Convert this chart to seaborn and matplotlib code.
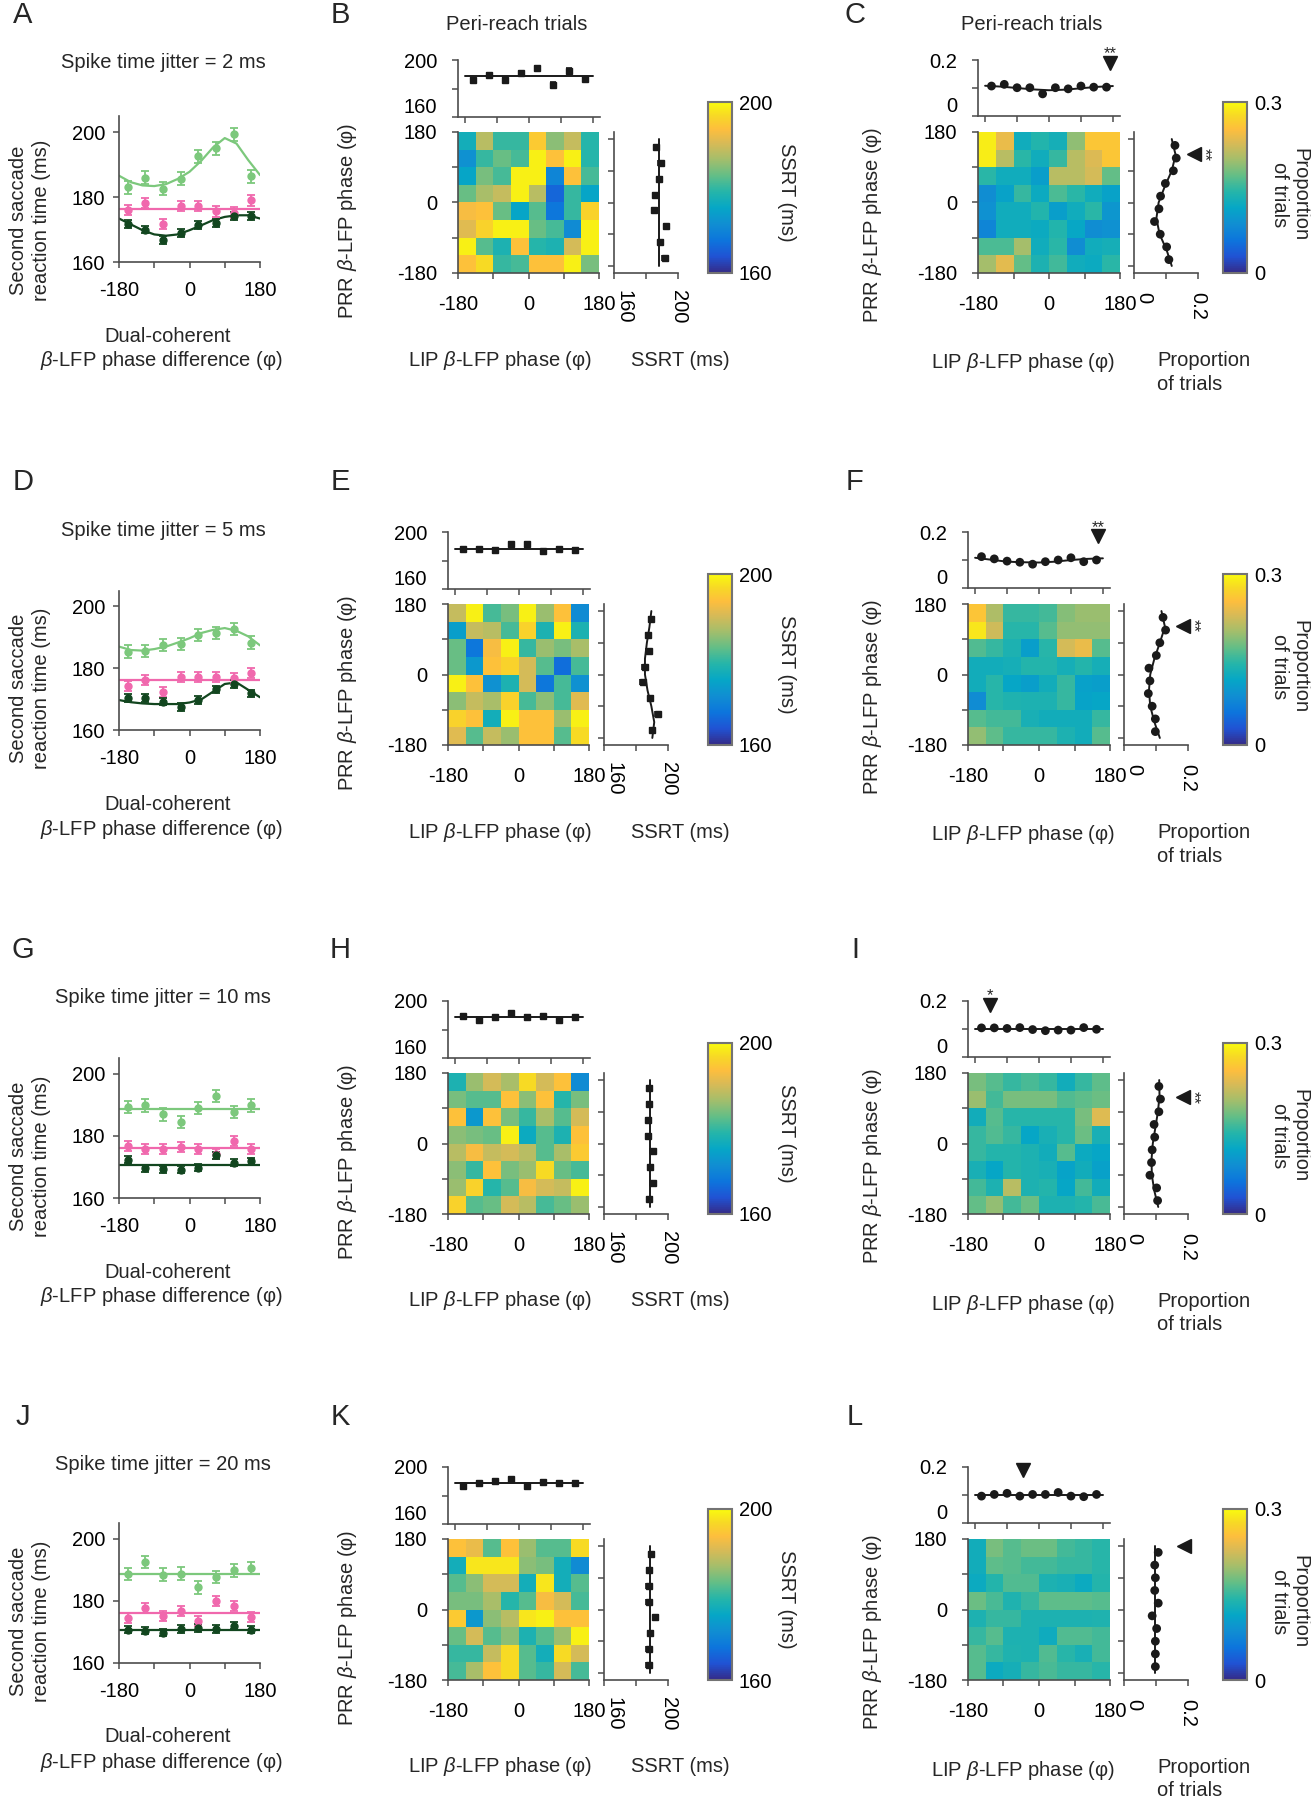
import numpy as np
import seaborn as sns
import matplotlib.pyplot as plt
from matplotlib.colors import LinearSegmentedColormap

W, H = 1311, 1800

# ---------------------------------------------------------------- data
LETTERS = [['A', 'B', 'C'], ['D', 'E', 'F'], ['G', 'H', 'I'], ['J', 'K', 'L']]
JITTERS = [2, 5, 10, 20]

PHASE_8 = [-157.5, -112.5, -67.5, -22.5, 22.5, 67.5, 112.5, 157.5]
PHASE_10 = [-162, -126, -90, -54, -18, 18, 54, 90, 126, 162]
FIT_X = [-180, -150, -120, -90, -60, -30, 0, 30, 60, 90, 120, 150, 180]
MARG_FIT_X = [-180, -135, -90, -45, 0, 45, 90, 135, 180]

# second saccade reaction time (ms), per jitter row
RT_LIGHT = [
    [183.1, 186.0, 182.6, 185.7, 192.6, 195.0, 199.3, 186.4],
    [185.4, 185.6, 187.6, 187.9, 190.8, 191.4, 192.8, 188.3],
    [189.3, 189.8, 186.9, 184.5, 189.0, 192.8, 187.7, 189.8],
    [188.6, 192.5, 188.4, 188.7, 184.3, 187.6, 189.8, 190.6],
]
RT_PINK = [
    [176.1, 178.2, 171.8, 177.3, 177.3, 175.6, 175.2, 179.0],
    [174.3, 176.2, 172.2, 177.1, 177.3, 177.1, 176.8, 178.4],
    [176.7, 175.9, 175.9, 176.4, 175.6, 174.1, 178.3, 175.7],
    [174.5, 177.7, 175.0, 176.6, 173.4, 179.8, 178.2, 174.7],
]
RT_DARK = [
    [171.8, 170.0, 166.9, 169.0, 171.3, 172.0, 174.1, 174.1],
    [170.3, 170.4, 169.2, 167.4, 169.7, 173.2, 174.9, 171.9],
    [172.3, 169.5, 169.2, 169.1, 169.8, 173.7, 171.4, 171.8],
    [170.7, 170.4, 169.8, 170.9, 171.2, 170.9, 172.0, 170.7],
]
ERR_LIGHT, ERR_PINK, ERR_DARK = 2.0, 1.6, 1.2
# fitted curves (one value = flat fit)
FIT_LIGHT = [
    [186.6, 184.6, 183.6, 183.4, 184.0, 185.6, 187.8, 191.2, 195.3, 198.2, 196.5, 191.4, 186.8],
    [187.0, 185.9, 185.7, 186.2, 187.0, 188.3, 189.7, 191.4, 192.4, 193.0, 192.1, 190.3, 187.4],
    [188.5],
    [188.6],
]
FIT_PINK = [[176.3], [176.2], [176.2], [176.1]]
FIT_DARK = [
    [173.4, 171.6, 169.8, 168.5, 168.1, 168.5, 169.8, 171.3, 172.9, 173.9, 174.4, 174.4, 173.4],
    [169.7, 169.0, 168.6, 168.4, 168.4, 168.4, 168.9, 169.9, 172.4, 174.9, 175.4, 173.0, 170.6],
    [170.7],
    [170.7],
]

# SSRT (ms) maps, rows from PRR +180 (top) to -180, columns LIP -180 -> 180
SSRT_MAPS = [
    [[177, 188, 180, 180, 195, 185, 189, 179],
     [172, 180, 183, 181, 199, 194, 199, 179],
     [175, 184, 181, 199, 199, 170, 194, 181],
     [183, 187, 189, 199, 188, 166, 180, 175],
     [193, 194, 183, 175, 182, 168, 180, 196],
     [191, 196, 199, 199, 183, 181, 171, 199],
     [199, 182, 178, 194, 179, 178, 190, 199],
     [194, 197, 180, 181, 194, 194, 199, 184]],
    [[189, 199, 181, 184, 199, 186, 194, 171],
     [174, 189, 188, 181, 196, 178, 199, 178],
     [183, 168, 193, 199, 180, 186, 184, 187],
     [183, 173, 194, 196, 190, 182, 167, 181],
     [199, 194, 172, 178, 190, 168, 181, 172],
     [185, 189, 187, 196, 181, 185, 181, 191],
     [196, 194, 177, 199, 194, 194, 186, 199],
     [191, 182, 189, 186, 194, 194, 182, 197]],
    [[178, 186, 190, 187, 197, 190, 194, 171],
     [184, 182, 182, 194, 185, 194, 179, 184],
     [194, 173, 194, 184, 180, 187, 182, 190],
     [185, 184, 183, 199, 176, 182, 178, 194],
     [188, 193, 189, 190, 188, 182, 187, 195],
     [185, 180, 194, 184, 186, 197, 183, 181],
     [186, 196, 179, 182, 193, 190, 189, 199],
     [196, 182, 183, 190, 188, 181, 183, 186]],
    [[194, 192, 182, 194, 186, 182, 182, 197],
     [177, 198, 198, 198, 185, 184, 177, 171],
     [182, 185, 190, 190, 177, 198, 177, 182],
     [184, 184, 187, 179, 182, 193, 190, 181],
     [195, 173, 185, 188, 198, 199, 194, 194],
     [183, 190, 182, 185, 178, 182, 186, 199],
     [180, 180, 189, 197, 182, 177, 197, 190],
     [181, 187, 194, 197, 182, 180, 190, 181]],
]
SSRT_TOP = [
    [186.0, 189.5, 186.3, 190.9, 194.4, 182.8, 192.6, 186.5],
    [188.2, 188.2, 187.1, 191.8, 191.3, 186.6, 188.2, 187.1],
    [189.3, 187.0, 188.9, 191.7, 188.9, 189.6, 186.5, 188.9],
    [187.0, 188.9, 190.1, 191.7, 187.0, 189.3, 188.9, 188.9],
]
SSRT_TOP_FIT = [[188.6], [188.2], [188.9], [188.9]]
SSRT_RIGHT = [  # ascending PRR phase
    [191.7, 188.9, 192.5, 185.2, 185.7, 188.4, 189.3, 186.3],
    [190.0, 193.5, 188.9, 184.2, 185.4, 187.9, 187.5, 189.6],
    [188.4, 190.5, 189.0, 190.5, 187.6, 187.6, 188.4, 188.4],
    [188.0, 188.0, 189.0, 192.1, 188.0, 188.0, 188.4, 189.6],
]
SSRT_RIGHT_FIT = [
    [188.4],
    [190.2, 191.4, 189.6, 187.2, 185.6, 185.6, 186.8, 188.4, 189.6],
    [188.6],
    [188.6],
]
SSRT_ERR = 1.5

# proportion of trials maps
PROP_MAPS = [
    [[0.290, 0.240, 0.125, 0.140, 0.130, 0.190, 0.260, 0.260],
     [0.290, 0.210, 0.145, 0.125, 0.150, 0.210, 0.230, 0.260],
     [0.145, 0.125, 0.125, 0.105, 0.210, 0.210, 0.225, 0.170],
     [0.085, 0.110, 0.150, 0.120, 0.160, 0.145, 0.125, 0.110],
     [0.090, 0.125, 0.125, 0.140, 0.105, 0.125, 0.145, 0.095],
     [0.075, 0.125, 0.125, 0.120, 0.140, 0.115, 0.085, 0.090],
     [0.160, 0.160, 0.200, 0.125, 0.145, 0.085, 0.125, 0.130],
     [0.200, 0.235, 0.170, 0.135, 0.155, 0.125, 0.120, 0.145]],
    [[0.258, 0.204, 0.150, 0.150, 0.156, 0.186, 0.195, 0.195],
     [0.285, 0.222, 0.144, 0.144, 0.165, 0.192, 0.192, 0.192],
     [0.162, 0.150, 0.135, 0.105, 0.144, 0.225, 0.240, 0.165],
     [0.126, 0.126, 0.129, 0.141, 0.141, 0.129, 0.141, 0.129],
     [0.126, 0.144, 0.114, 0.105, 0.126, 0.150, 0.108, 0.105],
     [0.084, 0.144, 0.138, 0.135, 0.135, 0.150, 0.111, 0.114],
     [0.165, 0.156, 0.156, 0.132, 0.126, 0.126, 0.126, 0.150],
     [0.192, 0.168, 0.150, 0.150, 0.150, 0.135, 0.126, 0.165]],
    [[0.180, 0.165, 0.150, 0.159, 0.150, 0.126, 0.150, 0.168],
     [0.195, 0.156, 0.180, 0.180, 0.180, 0.162, 0.168, 0.174],
     [0.126, 0.165, 0.144, 0.144, 0.144, 0.144, 0.180, 0.231],
     [0.150, 0.162, 0.150, 0.114, 0.132, 0.144, 0.174, 0.132],
     [0.150, 0.141, 0.141, 0.135, 0.126, 0.165, 0.120, 0.114],
     [0.132, 0.114, 0.141, 0.135, 0.132, 0.111, 0.126, 0.108],
     [0.156, 0.135, 0.210, 0.135, 0.141, 0.114, 0.156, 0.126],
     [0.171, 0.192, 0.156, 0.174, 0.135, 0.135, 0.141, 0.159]],
    [[0.126, 0.180, 0.165, 0.174, 0.174, 0.156, 0.150, 0.144],
     [0.126, 0.168, 0.165, 0.156, 0.156, 0.150, 0.150, 0.144],
     [0.120, 0.141, 0.162, 0.162, 0.135, 0.132, 0.120, 0.141],
     [0.174, 0.159, 0.138, 0.150, 0.168, 0.168, 0.168, 0.165],
     [0.135, 0.150, 0.150, 0.135, 0.135, 0.135, 0.135, 0.138],
     [0.150, 0.165, 0.135, 0.135, 0.123, 0.162, 0.162, 0.156],
     [0.165, 0.150, 0.138, 0.135, 0.162, 0.144, 0.132, 0.156],
     [0.165, 0.120, 0.129, 0.150, 0.159, 0.150, 0.150, 0.144]],
]
PROP_TOP = [
    [0.107, 0.113, 0.101, 0.101, 0.079, 0.101, 0.097, 0.107, 0.103, 0.103],
    [0.112, 0.104, 0.096, 0.092, 0.085, 0.094, 0.100, 0.108, 0.094, 0.100],
    [0.104, 0.104, 0.102, 0.105, 0.098, 0.094, 0.096, 0.096, 0.105, 0.099],
    [0.096, 0.102, 0.106, 0.096, 0.102, 0.102, 0.109, 0.096, 0.094, 0.102],
]
PROP_TOP_FIT = [
    [0.108, 0.105, 0.100, 0.095, 0.092, 0.094, 0.099, 0.104, 0.107],
    [0.108, 0.101, 0.094, 0.092, 0.091, 0.094, 0.100, 0.104, 0.106],
    [0.100],
    [0.100],
]
PROP_RIGHT = [  # ascending PRR phase
    [0.109, 0.102, 0.082, 0.064, 0.078, 0.083, 0.098, 0.123, 0.132, 0.128],
    [0.098, 0.098, 0.088, 0.076, 0.081, 0.078, 0.101, 0.112, 0.130, 0.122],
    [0.105, 0.102, 0.081, 0.086, 0.088, 0.096, 0.094, 0.109, 0.114, 0.109],
    [0.098, 0.098, 0.098, 0.102, 0.088, 0.107, 0.096, 0.098, 0.096, 0.107],
]
PROP_RIGHT_FIT = [
    [0.118, 0.102, 0.080, 0.070, 0.077, 0.096, 0.118, 0.130, 0.118],
    [0.112, 0.095, 0.082, 0.078, 0.082, 0.095, 0.112, 0.128, 0.117],
    [0.107, 0.095, 0.087, 0.086, 0.090, 0.098, 0.106, 0.111, 0.110],
    [0.098],
]
# preferred-phase markers (phase, height, stars)
TOP_TRI = [(172, 0.19, '**'), (167, 0.185, '**'), (-137, 0.186, '*'), (-45, 0.188, '')]
RIGHT_TRI = [(137, 0.187, '**'), (139, 0.184, '**'), (131, 0.184, '**'), (179, 0.186, '')]

# ---------------------------------------------------------------- layout (pixels)
LABEL_Y = [15, 482, 950, 1417]
A_TOP = [116, 591, 1058, 1523]
A_BOT = [262, 730, 1198, 1663]
HM_TOP = [132, 604, 1073, 1539]
SHIFT = [10, 0, 0, 0]

C_LIGHT, C_PINK, C_DARK = '#7cc87c', '#f068ad', '#12461f'
SPINE = '0.3'
FS = 14.5

PARULA_RGB = [(0.2081, 0.1663, 0.5292), (0.1253, 0.3242, 0.8303), (0.0498, 0.4586, 0.8641),
              (0.0641, 0.5570, 0.8240), (0.0228, 0.6535, 0.7768), (0.1453, 0.7098, 0.6646),
              (0.3953, 0.7459, 0.5244), (0.6473, 0.7456, 0.4188), (0.8507, 0.7299, 0.3360),
              (0.9938, 0.7455, 0.2403), (0.9697, 0.8481, 0.1475), (0.9763, 0.9831, 0.0538)]
PARULA_POS = [0, 6, 12, 18, 24, 30, 36, 42, 48, 53, 58, 63]
parula = LinearSegmentedColormap.from_list(
    'parula', [(p / 63, c) for p, c in zip(PARULA_POS, PARULA_RGB)])

sns.set_style('ticks')
plt.rcParams['font.family'] = ['Liberation Sans', 'DejaVu Sans']
plt.rcParams['mathtext.fontset'] = 'custom'
plt.rcParams['mathtext.it'] = 'Liberation Sans:italic'
plt.rcParams['mathtext.rm'] = 'Liberation Sans'
plt.rcParams['font.size'] = FS
plt.rcParams['axes.edgecolor'] = SPINE
plt.rcParams['axes.linewidth'] = 1.2
plt.rcParams['xtick.color'] = SPINE
plt.rcParams['ytick.color'] = SPINE
plt.rcParams['xtick.labelcolor'] = 'black'
plt.rcParams['ytick.labelcolor'] = 'black'
plt.rcParams['xtick.labelsize'] = FS
plt.rcParams['ytick.labelsize'] = FS

fig = plt.figure(figsize=(W / 100, H / 100), dpi=100)


def px_axes(x, y, w, h):
    return fig.add_axes([x / W, 1 - (y + h) / H, w / W, h / H])


def ftext(x, y, s, **kw):
    kw.setdefault('ha', 'center')
    kw.setdefault('va', 'center')
    kw.setdefault('fontsize', FS)
    fig.text(x / W, 1 - y / H, s, **kw)


def fit_xy(xs, fit):
    if len(fit) == 1:
        return [xs[0], xs[-1]], [fit[0], fit[0]]
    return xs, fit


def style_axes(ax, xpad=3, ypad=3):
    sns.despine(ax=ax)
    ax.tick_params(length=4, width=1.1)
    ax.tick_params(axis='x', pad=xpad)
    ax.tick_params(axis='y', pad=ypad)


PHASE_LBL = ['-180', '', '0', '', '180']
LIP = 'LIP $\\beta$-LFP phase (\u03c6)'
PRR = 'PRR $\\beta$-LFP phase (\u03c6)'

for r in range(4):
    la, lb, lc = LETTERS[r]
    s = SHIFT[r]
    ht = HM_TOP[r]

    # ---------------- column 1: reaction time vs phase difference
    ax = px_axes(119, A_TOP[r], 141, A_BOT[r] - A_TOP[r])
    for vals, fit, err, col in [(RT_LIGHT[r], FIT_LIGHT[r], ERR_LIGHT, C_LIGHT),
                                (RT_PINK[r], FIT_PINK[r], ERR_PINK, C_PINK),
                                (RT_DARK[r], FIT_DARK[r], ERR_DARK, C_DARK)]:
        fx, fy = fit_xy(FIT_X, fit)
        sns.lineplot(x=fx, y=fy, ax=ax, color=col, linewidth=1.6, legend=False)
        ax.errorbar(PHASE_8, vals, yerr=err, fmt='o', ms=5, color=col, ecolor=col,
                    elinewidth=1.3, capsize=3, capthick=1.3, zorder=3)
    ax.set_xlim(-180, 180)
    ax.set_ylim(160, 205)
    ax.set_xticks([-180, -90, 0, 90, 180], PHASE_LBL)
    ax.set_yticks([160, 180, 200])
    style_axes(ax, xpad=10, ypad=6)

    ftext(23, LABEL_Y[r], la, fontsize=21)
    ftext(163, LABEL_Y[r] + 48, f'Spike time jitter = {JITTERS[r]} ms')
    ftext(168, A_BOT[r] + 74, 'Dual-coherent')
    ftext(161, A_BOT[r] + 99, '$\\beta$-LFP phase difference (\u03c6)')
    ftext(30, A_BOT[r] - 42, 'Second saccade\nreaction time (ms)', rotation=90,
          linespacing=1.3)

    # ---------------- column 2: SSRT map
    hm = px_axes(448 + s, ht, 141, 141)
    cax = px_axes(708, ht - 30, 24, 171)
    sns.heatmap(np.array(SSRT_MAPS[r]), ax=hm, cmap=parula, vmin=160, vmax=200,
                cbar_ax=cax, xticklabels=False, yticklabels=False)
    hm.set_xticks([0, 2, 4, 6, 8], PHASE_LBL)
    hm.set_yticks([0, 2, 4, 6, 8], ['180', '', '0', '', '-180'], rotation=0)
    for sp in ['left', 'bottom']:
        hm.spines[sp].set_visible(True)
    hm.tick_params(left=True, bottom=True, length=4, width=1.1)
    hm.tick_params(axis='x', pad=12)
    hm.tick_params(axis='y', pad=11)
    cb = hm.collections[0].colorbar
    cb.set_ticks([160, 200], labels=['160', '200'])
    cb.ax.tick_params(length=0, pad=5, labelsize=FS)
    cb.outline.set_edgecolor('0.45')
    cb.outline.set_linewidth(1.5)

    top = px_axes(448 + s, ht - 72, 142, 57)
    fx, fy = fit_xy([-180, 180], SSRT_TOP_FIT[r])
    sns.lineplot(x=fx, y=fy, ax=top, color='0.1', linewidth=1.4, legend=False)
    top.errorbar(PHASE_8, SSRT_TOP[r], yerr=SSRT_ERR, fmt='s', ms=5, color='0.1',
                 elinewidth=1.2, capsize=2.5, capthick=1.2, zorder=3)
    top.set_xlim(-200, 200)
    top.set_ylim(160, 200)
    top.set_xticks([-180, -90, 0, 90, 180], [''] * 5)
    top.set_yticks([160, 180, 200], ['160', '', '200'])
    style_axes(top, ypad=11)
    top.get_yticklabels()[0].set_va('bottom')

    right = px_axes(604 + s, ht, 64, 141)
    fx, fy = fit_xy(MARG_FIT_X, SSRT_RIGHT_FIT[r])
    sns.lineplot(x=fy, y=fx, ax=right, color='0.1', linewidth=1.4, legend=False,
                 orient='y', sort=False)
    right.errorbar(SSRT_RIGHT[r], PHASE_8, xerr=SSRT_ERR, fmt='s', ms=5, color='0.1',
                   elinewidth=1.2, capsize=2.5, capthick=1.2, zorder=3)
    right.set_ylim(-200, 200)
    right.set_xlim(160, 200)
    right.set_yticks([-180, -90, 0, 90, 180], [''] * 5)
    right.set_xticks([160, 180, 200], ['160', '', '200'], rotation=-90)
    style_axes(right, xpad=8)
    right.get_xticklabels()[0].set_ha('left')

    ftext(340, LABEL_Y[r], lb, fontsize=21)
    ftext(348, ht + 89, PRR, rotation=90)
    ftext(500, ht + 228, LIP)
    ftext(680, ht + 228, 'SSRT (ms)')
    ftext(787, ht + 60, 'SSRT (ms)', rotation=-90)

    # ---------------- column 3: proportion of trials map
    hm2 = px_axes(968 + s, ht, 142, 141)
    cax2 = px_axes(1223, ht - 30, 24, 171)
    sns.heatmap(np.array(PROP_MAPS[r]), ax=hm2, cmap=parula, vmin=0, vmax=0.3,
                cbar_ax=cax2, xticklabels=False, yticklabels=False)
    hm2.set_xticks([0, 2, 4, 6, 8], PHASE_LBL)
    hm2.set_yticks([0, 2, 4, 6, 8], ['180', '', '0', '', '-180'], rotation=0)
    for sp in ['left', 'bottom']:
        hm2.spines[sp].set_visible(True)
    hm2.tick_params(left=True, bottom=True, length=4, width=1.1)
    hm2.tick_params(axis='x', pad=12)
    hm2.tick_params(axis='y', pad=11)
    cb2 = hm2.collections[0].colorbar
    cb2.set_ticks([0, 0.3], labels=['0', '0.3'])
    cb2.ax.tick_params(length=0, pad=5, labelsize=FS)
    cb2.outline.set_edgecolor('0.45')
    cb2.outline.set_linewidth(1.5)

    top2 = px_axes(968 + s, ht - 72, 142, 56)
    fx, fy = fit_xy(MARG_FIT_X, PROP_TOP_FIT[r])
    sns.lineplot(x=fx, y=fy, ax=top2, color='0.1', linewidth=1.4, legend=False)
    sns.scatterplot(x=PHASE_10, y=PROP_TOP[r], ax=top2, color='0.1', s=40,
                    edgecolor='none', zorder=3, legend=False)
    tx, ty, tstar = TOP_TRI[r]
    top2.plot([tx], [ty], marker='v', color='0.1', ms=10, clip_on=False)
    if tstar:
        top2.text(tx, ty + 0.032, tstar, ha='center', va='center', fontsize=12)
    top2.set_xlim(-200, 200)
    top2.set_ylim(0, 0.2)
    top2.set_xticks([-180, -90, 0, 90, 180], [''] * 5)
    top2.set_yticks([0, 0.1, 0.2], ['0', '', '0.2'])
    style_axes(top2, ypad=11)
    top2.get_yticklabels()[0].set_va('bottom')

    right2 = px_axes(1124 + s, ht, 64, 141)
    fx, fy = fit_xy(MARG_FIT_X, PROP_RIGHT_FIT[r])
    sns.lineplot(x=fy, y=fx, ax=right2, color='0.1', linewidth=1.4, legend=False,
                 orient='y', sort=False)
    sns.scatterplot(x=PROP_RIGHT[r], y=PHASE_10, ax=right2, color='0.1', s=40,
                    edgecolor='none', zorder=3, legend=False)
    ry, rx, rstar = RIGHT_TRI[r]
    right2.plot([rx], [ry], marker='<', color='0.1', ms=10, clip_on=False)
    if rstar:
        right2.text(rx + 0.032, ry, rstar, ha='center', va='center', fontsize=12,
                    rotation=-90)
    right2.set_ylim(-200, 200)
    right2.set_xlim(0, 0.2)
    right2.set_yticks([-180, -90, 0, 90, 180], [''] * 5)
    right2.set_xticks([0, 0.1, 0.2], ['0', '', '0.2'], rotation=-90)
    style_axes(right2, xpad=10)
    right2.get_xticklabels()[0].set_ha('left')

    ftext(855, LABEL_Y[r], lc, fontsize=21)
    ftext(873, ht + 93, PRR, rotation=90)
    ftext(1023, ht + 231, LIP)
    ftext(1157, ht + 219, 'Proportion\nof trials', ha='left', va='top', linespacing=1.3)
    ftext(1290, ht + 63, 'Proportion\nof trials', rotation=-90, linespacing=1.1)

ftext(517, 25, 'Peri-reach trials')
ftext(1032, 25, 'Peri-reach trials')

fig.savefig('out.png', dpi=100, facecolor='white')
